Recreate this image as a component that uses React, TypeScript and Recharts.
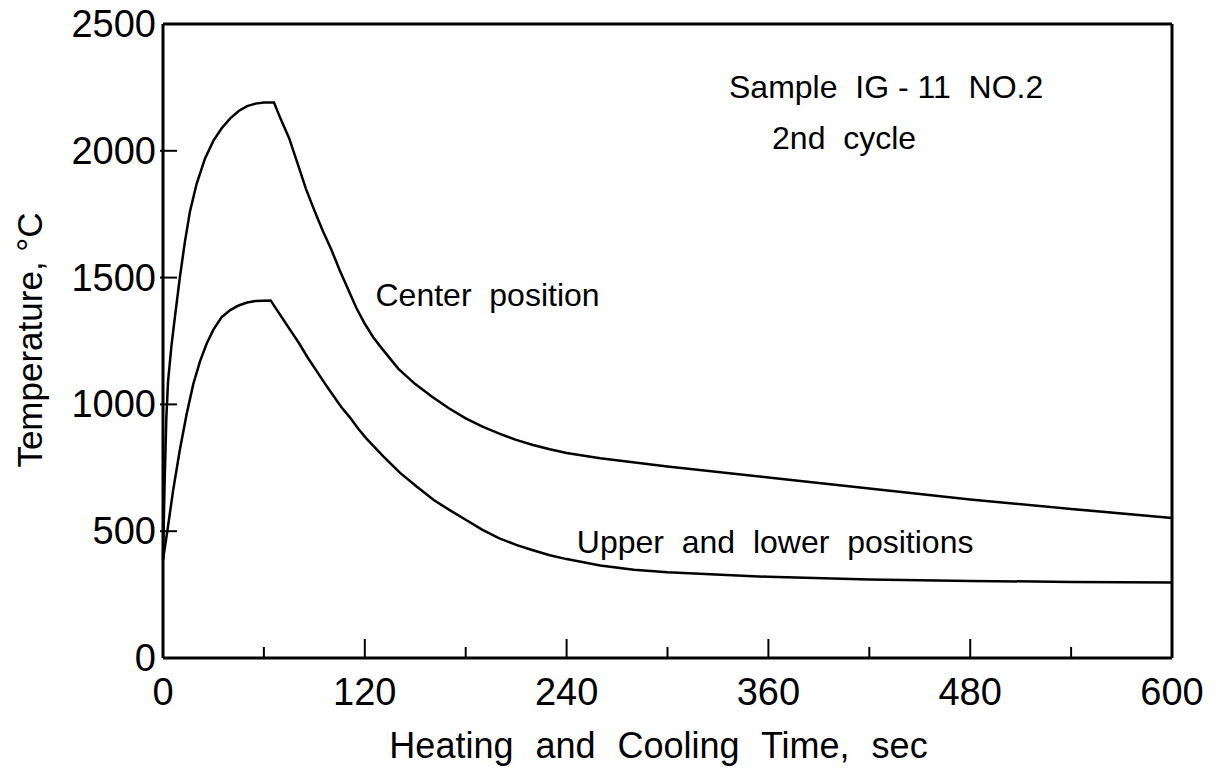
import React from 'react';
import { LineChart, Line, XAxis, YAxis, ReferenceDot } from 'recharts';

// Center position curve: time (s), temperature (°C)
const centerTime = [0, 1, 2, 3, 5, 7, 10, 13, 16, 20, 25, 30, 35, 40, 45, 50, 55, 60, 66, 70, 75, 80, 85, 90, 95, 100, 105, 110, 115, 120, 125, 130, 140, 150, 160, 170, 180, 190, 200, 210, 220, 230, 240, 260, 300, 360, 420, 480, 540, 600];
const centerTemp = [390, 700, 950, 1090, 1230, 1340, 1500, 1640, 1760, 1870, 1970, 2040, 2090, 2128, 2157, 2176, 2186, 2190, 2190, 2125, 2050, 1950, 1850, 1765, 1685, 1612, 1530, 1455, 1380, 1318, 1265, 1222, 1140, 1080, 1030, 985, 945, 912, 885, 860, 840, 823, 808, 788, 755, 712, 668, 625, 588, 552];

// Upper and lower positions curve
const outerTime = [0, 3, 6, 10, 14, 18, 22, 26, 30, 35, 40, 45, 50, 55, 64, 68, 72, 76, 81, 86, 91, 96, 101, 106, 111, 116, 121, 131, 141, 151, 161, 170, 180, 190, 200, 210, 220, 230, 240, 260, 280, 300, 360, 420, 480, 540, 600];
const outerTemp = [386, 520, 660, 820, 960, 1080, 1170, 1240, 1295, 1345, 1372, 1390, 1402, 1408, 1410, 1370, 1330, 1290, 1240, 1185, 1135, 1085, 1037, 990, 950, 905, 865, 795, 730, 675, 623, 585, 545, 505, 472, 446, 425, 405, 390, 365, 348, 338, 320, 310, 304, 300, 298];

const xTicks = [0, 60, 120, 180, 240, 300, 360, 420, 480, 540, 600];
const xLabelTicks = [0, 120, 240, 360, 480, 600];
const yTicks = [0, 500, 1000, 1500, 2000, 2500];
const yRightTicks = [500, 1000, 1500, 2000];

const annotations = [
  { t: 430, v: 2252, text: 'Sample  IG - 11  NO.2' },
  { t: 405, v: 2050, text: '2nd  cycle' },
  { t: 193, v: 1431, text: 'Center  position' },
  { t: 364, v: 457, text: 'Upper  and  lower  positions' },
];

const centerData = centerTime.map((t, i) => ({ t, v: centerTemp[i] }));
const outerData = outerTime.map((t, i) => ({ t, v: outerTemp[i] }));

const FONT = "'Liberation Sans', Arial, sans-serif";
const FS = 38;

const BottomTick = (props: any) => {
  const { x, y, payload } = props;
  const val = payload.value;
  const major = xLabelTicks.includes(val);
  const showLine = val !== 0 && val !== 600;
  return (
    <g>
      {showLine && <line x1={x} x2={x} y1={y} y2={y - (major ? 19 : 11)} stroke="#000" strokeWidth={2} />}
      {major && (
        <text x={x} y={y + 34} textAnchor="middle" dominantBaseline="central" fontFamily={FONT} fontSize={FS} fill="#000">
          {val}
        </text>
      )}
    </g>
  );
};

const TopTick = (props: any) => {
  const { x, y, payload } = props;
  const val = payload.value;
  if (val === 0 || val === 600) return <g />;
  const major = xLabelTicks.includes(val);
  return <line x1={x} x2={x} y1={y} y2={y + (major ? 18 : 11)} stroke="#000" strokeWidth={2} />;
};

const LeftTick = (props: any) => {
  const { x, y, payload } = props;
  const val = payload.value;
  const showLine = val !== 0 && val !== 2500;
  return (
    <g>
      {showLine && <line x1={x - 3} x2={x + 14} y1={y} y2={y} stroke="#000" strokeWidth={2} />}
      <text x={x - 7} y={y} textAnchor="end" dominantBaseline="central" fontFamily={FONT} fontSize={FS} fill="#000">
        {val}
      </text>
    </g>
  );
};

const RightTick = (props: any) => {
  const { x, y } = props;
  return <line x1={x} x2={x - 13} y1={y} y2={y} stroke="#000" strokeWidth={2} />;
};

const AnnoLabel = (text: string) => (props: any) => {
  const vb = props.viewBox || {};
  const cx = (vb.x ?? 0) + (vb.width ?? 0) / 2;
  const cy = (vb.y ?? 0) + (vb.height ?? 0) / 2;
  return (
    <text
      x={cx}
      y={cy}
      textAnchor="middle"
      dominantBaseline="central"
      fontFamily={FONT}
      fontSize={32}
      fill="#000"
      style={{ whiteSpace: 'pre' }}
    >
      {text}
    </text>
  );
};

export default function App() {
  return (
    <div style={{ position: 'absolute', left: 0, top: 0, width: 1215, height: 774, background: '#fff' }}>
      <LineChart
        width={1215}
        height={774}
        margin={{ top: 14, right: 33, bottom: 56, left: 103 }}
        style={{ fontFamily: FONT }}
      >
        <XAxis
          xAxisId="b"
          type="number"
          dataKey="t"
          domain={[0, 600]}
          ticks={xTicks}
          interval={0}
          height={60}
          tickSize={0}
          tickMargin={0}
          tickLine={false}
          axisLine={{ stroke: '#000', strokeWidth: 3 }}
          tick={<BottomTick />}
        />
        <XAxis
          xAxisId="t"
          orientation="top"
          type="number"
          dataKey="t"
          domain={[0, 600]}
          ticks={xTicks}
          interval={0}
          height={10}
          tickSize={0}
          tickMargin={0}
          tickLine={false}
          axisLine={{ stroke: '#000', strokeWidth: 3 }}
          tick={<TopTick />}
        />
        <YAxis
          yAxisId="l"
          type="number"
          domain={[0, 2500]}
          ticks={yTicks}
          interval={0}
          width={60}
          tickSize={0}
          tickMargin={0}
          tickLine={false}
          axisLine={{ stroke: '#000', strokeWidth: 3 }}
          tick={<LeftTick />}
        />
        <YAxis
          yAxisId="r"
          orientation="right"
          type="number"
          domain={[0, 2500]}
          ticks={yRightTicks}
          interval={0}
          width={10}
          tickSize={0}
          tickMargin={0}
          tickLine={false}
          axisLine={{ stroke: '#000', strokeWidth: 3 }}
          tick={<RightTick />}
        />
        <Line
          xAxisId="b"
          yAxisId="l"
          data={centerData}
          dataKey="v"
          type="linear"
          stroke="#000"
          strokeWidth={2.5}
          dot={false}
          isAnimationActive={false}
        />
        <Line
          xAxisId="b"
          yAxisId="l"
          data={outerData}
          dataKey="v"
          type="linear"
          stroke="#000"
          strokeWidth={2.5}
          dot={false}
          isAnimationActive={false}
        />
        {annotations.map((a) => (
          <ReferenceDot
            key={a.text}
            xAxisId="b"
            yAxisId="l"
            x={a.t}
            y={a.v}
            r={0}
            fill="none"
            stroke="none"
            ifOverflow="visible"
            label={AnnoLabel(a.text)}
          />
        ))}
      </LineChart>
      <div
        style={{
          position: 'absolute',
          left: 163,
          width: 1009,
          top: 725,
          textAlign: 'center',
          fontFamily: FONT,
          fontSize: 36,
          wordSpacing: 12,
          lineHeight: '42px',
          color: '#000',
          whiteSpace: 'nowrap',
          transform: 'translateX(-9px)',
        }}
      >
        Heating and Cooling Time, sec
      </div>
      <div
        style={{
          position: 'absolute',
          left: 30,
          top: 340,
          fontFamily: FONT,
          fontSize: 35,
          lineHeight: '40px',
          color: '#000',
          whiteSpace: 'nowrap',
          transform: 'translate(-50%, -50%) rotate(-90deg)',
        }}
      >
        Temperature, °C
      </div>
    </div>
  );
}
